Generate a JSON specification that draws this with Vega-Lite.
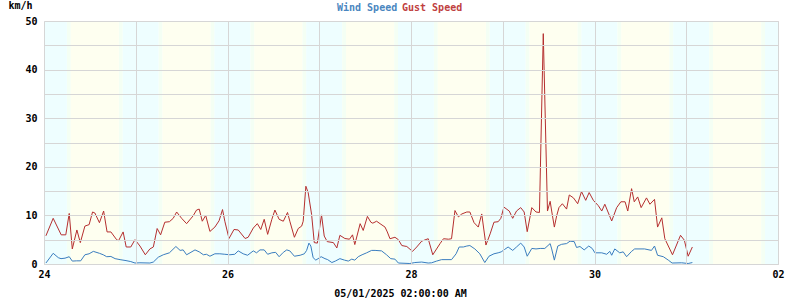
{
  "$schema": "https://vega.github.io/schema/vega-lite/v6.json",
  "width": 734,
  "height": 243,
  "autosize": {"type": "none"},
  "padding": {"left": 44, "top": 21, "right": 22, "bottom": 36},
  "background": "white",
  "config": {
    "view": {"stroke": "#d6d6d6"},
    "font": "DejaVu Sans Mono",
    "axis": {
      "grid": true,
      "gridColor": "#d6d6d6",
      "gridWidth": 1,
      "domainColor": "#d6d6d6",
      "ticks": false,
      "labelFont": "DejaVu Sans Mono",
      "labelFontWeight": "bold",
      "labelFontSize": 10,
      "labelColor": "#000000",
      "titleFont": "DejaVu Sans Mono",
      "titleFontWeight": "bold",
      "titleFontSize": 10,
      "titleColor": "#000000",
      "labelOverlap": false,
      "labelFlush": false
    }
  },
  "datasets": {
    "bands": [
      {"h": 0, "h2": 6, "k": "n"}, {"h": 6, "h2": 7, "k": "t"}, {"h": 7, "h2": 19.6, "k": "d"}, {"h": 19.6, "h2": 20.6, "k": "t"},
      {"h": 20.6, "h2": 30, "k": "n"}, {"h": 30, "h2": 31, "k": "t"}, {"h": 31, "h2": 43.6, "k": "d"}, {"h": 43.6, "h2": 44.6, "k": "t"},
      {"h": 44.6, "h2": 54, "k": "n"}, {"h": 54, "h2": 55, "k": "t"}, {"h": 55, "h2": 67.6, "k": "d"}, {"h": 67.6, "h2": 68.6, "k": "t"},
      {"h": 68.6, "h2": 78, "k": "n"}, {"h": 78, "h2": 79, "k": "t"}, {"h": 79, "h2": 91.6, "k": "d"}, {"h": 91.6, "h2": 92.6, "k": "t"},
      {"h": 92.6, "h2": 102, "k": "n"}, {"h": 102, "h2": 103, "k": "t"}, {"h": 103, "h2": 115.6, "k": "d"}, {"h": 115.6, "h2": 116.6, "k": "t"},
      {"h": 116.6, "h2": 126, "k": "n"}, {"h": 126, "h2": 127, "k": "t"}, {"h": 127, "h2": 139.6, "k": "d"}, {"h": 139.6, "h2": 140.6, "k": "t"},
      {"h": 140.6, "h2": 150, "k": "n"}, {"h": 150, "h2": 151, "k": "t"}, {"h": 151, "h2": 163.6, "k": "d"}, {"h": 163.6, "h2": 164.6, "k": "t"},
      {"h": 164.6, "h2": 174, "k": "n"}, {"h": 174, "h2": 175, "k": "t"}, {"h": 175, "h2": 187.6, "k": "d"}, {"h": 187.6, "h2": 188.6, "k": "t"},
      {"h": 188.6, "h2": 192, "k": "n"}
    ],
    "wind": [
      {"s": "Wind Speed", "h": 0.5, "v": 0.2}, {"s": "Wind Speed", "h": 2.4, "v": 2.2}, {"s": "Wind Speed", "h": 3.75, "v": 1.3},
      {"s": "Wind Speed", "h": 4.45, "v": 1.1}, {"s": "Wind Speed", "h": 5.5, "v": 1.2}, {"s": "Wind Speed", "h": 6.6, "v": 1.5},
      {"s": "Wind Speed", "h": 7.4, "v": 0.6}, {"s": "Wind Speed", "h": 8.55, "v": 0.65}, {"s": "Wind Speed", "h": 9.6, "v": 0.65},
      {"s": "Wind Speed", "h": 10.7, "v": 1.9}, {"s": "Wind Speed", "h": 11.8, "v": 2.1}, {"s": "Wind Speed", "h": 12.9, "v": 2.6},
      {"s": "Wind Speed", "h": 14.5, "v": 2.2}, {"s": "Wind Speed", "h": 15.5, "v": 1.9}, {"s": "Wind Speed", "h": 16.4, "v": 1.5},
      {"s": "Wind Speed", "h": 17.5, "v": 1.55}, {"s": "Wind Speed", "h": 18.6, "v": 1.1}, {"s": "Wind Speed", "h": 19.9, "v": 0.9},
      {"s": "Wind Speed", "h": 21.45, "v": 0.7}, {"s": "Wind Speed", "h": 22.7, "v": 0.5}, {"s": "Wind Speed", "h": 23.8, "v": 0.2},
      {"s": "Wind Speed", "h": 25.1, "v": 0.25}, {"s": "Wind Speed", "h": 27.7, "v": 0.2}, {"s": "Wind Speed", "h": 28.6, "v": 0.4},
      {"s": "Wind Speed", "h": 29.9, "v": 1.4}, {"s": "Wind Speed", "h": 31.2, "v": 1.9}, {"s": "Wind Speed", "h": 32.8, "v": 2.3},
      {"s": "Wind Speed", "h": 34.5, "v": 3.6}, {"s": "Wind Speed", "h": 35.6, "v": 2.8}, {"s": "Wind Speed", "h": 36.4, "v": 2.9},
      {"s": "Wind Speed", "h": 37.3, "v": 1.9}, {"s": "Wind Speed", "h": 38.2, "v": 2.3}, {"s": "Wind Speed", "h": 39.5, "v": 2.9},
      {"s": "Wind Speed", "h": 40.6, "v": 2.5}, {"s": "Wind Speed", "h": 41.7, "v": 1.9}, {"s": "Wind Speed", "h": 42.5, "v": 2.0},
      {"s": "Wind Speed", "h": 43.4, "v": 1.6}, {"s": "Wind Speed", "h": 44.7, "v": 2.1}, {"s": "Wind Speed", "h": 46.0, "v": 2.1},
      {"s": "Wind Speed", "h": 47.3, "v": 2.0}, {"s": "Wind Speed", "h": 48.6, "v": 1.9}, {"s": "Wind Speed", "h": 49.9, "v": 2.0},
      {"s": "Wind Speed", "h": 50.8, "v": 2.7}, {"s": "Wind Speed", "h": 52.1, "v": 2.1}, {"s": "Wind Speed", "h": 53.25, "v": 1.8},
      {"s": "Wind Speed", "h": 54.75, "v": 2.7}, {"s": "Wind Speed", "h": 55.6, "v": 2.3}, {"s": "Wind Speed", "h": 56.5, "v": 2.9},
      {"s": "Wind Speed", "h": 57.6, "v": 2.9}, {"s": "Wind Speed", "h": 58.5, "v": 2.0}, {"s": "Wind Speed", "h": 59.6, "v": 2.3},
      {"s": "Wind Speed", "h": 60.6, "v": 2.4}, {"s": "Wind Speed", "h": 61.5, "v": 1.5}, {"s": "Wind Speed", "h": 62.6, "v": 2.4},
      {"s": "Wind Speed", "h": 63.5, "v": 2.9}, {"s": "Wind Speed", "h": 64.3, "v": 2.7}, {"s": "Wind Speed", "h": 65.5, "v": 1.6},
      {"s": "Wind Speed", "h": 67.0, "v": 1.8}, {"s": "Wind Speed", "h": 68.1, "v": 2.1}, {"s": "Wind Speed", "h": 68.7, "v": 2.8},
      {"s": "Wind Speed", "h": 69.3, "v": 4.3}, {"s": "Wind Speed", "h": 69.8, "v": 3.7}, {"s": "Wind Speed", "h": 70.4, "v": 1.3},
      {"s": "Wind Speed", "h": 71.1, "v": 0.8}, {"s": "Wind Speed", "h": 72.5, "v": 1.5}, {"s": "Wind Speed", "h": 73.5, "v": 1.1},
      {"s": "Wind Speed", "h": 74.2, "v": 0.9}, {"s": "Wind Speed", "h": 75.3, "v": 0.3}, {"s": "Wind Speed", "h": 76.2, "v": 0.6},
      {"s": "Wind Speed", "h": 77.4, "v": 1.1}, {"s": "Wind Speed", "h": 78.6, "v": 0.8}, {"s": "Wind Speed", "h": 79.6, "v": 0.6},
      {"s": "Wind Speed", "h": 80.5, "v": 1.0}, {"s": "Wind Speed", "h": 81.3, "v": 0.8}, {"s": "Wind Speed", "h": 82.2, "v": 1.5},
      {"s": "Wind Speed", "h": 83.2, "v": 1.9}, {"s": "Wind Speed", "h": 84.4, "v": 2.3}, {"s": "Wind Speed", "h": 85.7, "v": 2.8},
      {"s": "Wind Speed", "h": 86.6, "v": 2.8}, {"s": "Wind Speed", "h": 88.3, "v": 2.7}, {"s": "Wind Speed", "h": 89.6, "v": 1.9},
      {"s": "Wind Speed", "h": 90.7, "v": 1.1}, {"s": "Wind Speed", "h": 91.8, "v": 1.0}, {"s": "Wind Speed", "h": 92.7, "v": 0.2},
      {"s": "Wind Speed", "h": 95.7, "v": 0.1}, {"s": "Wind Speed", "h": 97.0, "v": 0.3}, {"s": "Wind Speed", "h": 98.8, "v": 0.4},
      {"s": "Wind Speed", "h": 100.5, "v": 0.2}, {"s": "Wind Speed", "h": 101.4, "v": 0.25}, {"s": "Wind Speed", "h": 102.7, "v": 0.6},
      {"s": "Wind Speed", "h": 104.0, "v": 0.9}, {"s": "Wind Speed", "h": 106.6, "v": 0.9}, {"s": "Wind Speed", "h": 107.8, "v": 2.1},
      {"s": "Wind Speed", "h": 108.6, "v": 3.5}, {"s": "Wind Speed", "h": 109.7, "v": 3.5}, {"s": "Wind Speed", "h": 110.6, "v": 3.7},
      {"s": "Wind Speed", "h": 111.4, "v": 3.8}, {"s": "Wind Speed", "h": 112.7, "v": 3.1}, {"s": "Wind Speed", "h": 114.0, "v": 2.1},
      {"s": "Wind Speed", "h": 115.3, "v": 0.3}, {"s": "Wind Speed", "h": 116.4, "v": 1.6}, {"s": "Wind Speed", "h": 117.7, "v": 2.1},
      {"s": "Wind Speed", "h": 118.8, "v": 2.3}, {"s": "Wind Speed", "h": 119.6, "v": 2.5}, {"s": "Wind Speed", "h": 120.5, "v": 3.0},
      {"s": "Wind Speed", "h": 121.4, "v": 3.5}, {"s": "Wind Speed", "h": 122.6, "v": 2.8}, {"s": "Wind Speed", "h": 123.6, "v": 3.5},
      {"s": "Wind Speed", "h": 124.7, "v": 4.3}, {"s": "Wind Speed", "h": 125.6, "v": 3.5}, {"s": "Wind Speed", "h": 126.4, "v": 1.6},
      {"s": "Wind Speed", "h": 127.6, "v": 3.2}, {"s": "Wind Speed", "h": 128.7, "v": 3.1}, {"s": "Wind Speed", "h": 129.8, "v": 3.2},
      {"s": "Wind Speed", "h": 131.0, "v": 3.2}, {"s": "Wind Speed", "h": 132.4, "v": 4.2}, {"s": "Wind Speed", "h": 132.8, "v": 3.1},
      {"s": "Wind Speed", "h": 133.5, "v": 0.8}, {"s": "Wind Speed", "h": 134.4, "v": 3.7}, {"s": "Wind Speed", "h": 135.4, "v": 4.05},
      {"s": "Wind Speed", "h": 136.7, "v": 4.2}, {"s": "Wind Speed", "h": 137.6, "v": 4.7}, {"s": "Wind Speed", "h": 138.7, "v": 4.6},
      {"s": "Wind Speed", "h": 139.3, "v": 3.4}, {"s": "Wind Speed", "h": 140.2, "v": 3.6}, {"s": "Wind Speed", "h": 141.3, "v": 2.9},
      {"s": "Wind Speed", "h": 142.5, "v": 3.7}, {"s": "Wind Speed", "h": 143.4, "v": 3.2}, {"s": "Wind Speed", "h": 144.1, "v": 2.3},
      {"s": "Wind Speed", "h": 145.9, "v": 2.3}, {"s": "Wind Speed", "h": 147.2, "v": 2.0}, {"s": "Wind Speed", "h": 148.0, "v": 2.6},
      {"s": "Wind Speed", "h": 148.5, "v": 1.8}, {"s": "Wind Speed", "h": 149.3, "v": 3.1}, {"s": "Wind Speed", "h": 150.6, "v": 2.3},
      {"s": "Wind Speed", "h": 151.5, "v": 2.5}, {"s": "Wind Speed", "h": 152.4, "v": 1.5}, {"s": "Wind Speed", "h": 153.7, "v": 2.6},
      {"s": "Wind Speed", "h": 154.5, "v": 3.1}, {"s": "Wind Speed", "h": 157.1, "v": 3.1}, {"s": "Wind Speed", "h": 158.9, "v": 2.8},
      {"s": "Wind Speed", "h": 159.7, "v": 3.7}, {"s": "Wind Speed", "h": 160.5, "v": 1.8}, {"s": "Wind Speed", "h": 162.0, "v": 1.5},
      {"s": "Wind Speed", "h": 163.3, "v": 0.8}, {"s": "Wind Speed", "h": 164.3, "v": 0.2}, {"s": "Wind Speed", "h": 166.8, "v": 0.25},
      {"s": "Wind Speed", "h": 168.5, "v": 0.1}, {"s": "Wind Speed", "h": 169.6, "v": 0.3},

      {"s": "Gust Speed", "h": 0.5, "v": 5.8}, {"s": "Gust Speed", "h": 2.4, "v": 9.4}, {"s": "Gust Speed", "h": 4.5, "v": 6.0},
      {"s": "Gust Speed", "h": 5.7, "v": 6.0}, {"s": "Gust Speed", "h": 6.6, "v": 10.4}, {"s": "Gust Speed", "h": 7.4, "v": 3.1},
      {"s": "Gust Speed", "h": 8.6, "v": 7.0}, {"s": "Gust Speed", "h": 9.5, "v": 4.4}, {"s": "Gust Speed", "h": 10.7, "v": 7.8},
      {"s": "Gust Speed", "h": 11.8, "v": 8.1}, {"s": "Gust Speed", "h": 12.7, "v": 10.7}, {"s": "Gust Speed", "h": 13.3, "v": 10.5},
      {"s": "Gust Speed", "h": 14.5, "v": 8.5}, {"s": "Gust Speed", "h": 15.6, "v": 10.9}, {"s": "Gust Speed", "h": 16.5, "v": 6.6},
      {"s": "Gust Speed", "h": 17.5, "v": 6.6}, {"s": "Gust Speed", "h": 19.0, "v": 5.0}, {"s": "Gust Speed", "h": 19.5, "v": 4.8},
      {"s": "Gust Speed", "h": 20.7, "v": 6.6}, {"s": "Gust Speed", "h": 21.5, "v": 3.5}, {"s": "Gust Speed", "h": 22.7, "v": 3.5},
      {"s": "Gust Speed", "h": 23.8, "v": 5.0}, {"s": "Gust Speed", "h": 25.1, "v": 3.7}, {"s": "Gust Speed", "h": 26.5, "v": 1.9},
      {"s": "Gust Speed", "h": 27.7, "v": 3.1}, {"s": "Gust Speed", "h": 28.6, "v": 3.5}, {"s": "Gust Speed", "h": 29.6, "v": 7.3},
      {"s": "Gust Speed", "h": 30.5, "v": 6.0}, {"s": "Gust Speed", "h": 31.6, "v": 8.6}, {"s": "Gust Speed", "h": 32.8, "v": 8.7},
      {"s": "Gust Speed", "h": 33.8, "v": 9.4}, {"s": "Gust Speed", "h": 34.7, "v": 10.7}, {"s": "Gust Speed", "h": 36.0, "v": 9.4},
      {"s": "Gust Speed", "h": 37.3, "v": 8.3}, {"s": "Gust Speed", "h": 39.0, "v": 9.9}, {"s": "Gust Speed", "h": 39.9, "v": 11.1},
      {"s": "Gust Speed", "h": 40.6, "v": 11.3}, {"s": "Gust Speed", "h": 41.4, "v": 8.8}, {"s": "Gust Speed", "h": 42.3, "v": 10.0},
      {"s": "Gust Speed", "h": 43.4, "v": 6.7}, {"s": "Gust Speed", "h": 44.7, "v": 7.6}, {"s": "Gust Speed", "h": 45.8, "v": 8.9},
      {"s": "Gust Speed", "h": 46.7, "v": 11.2}, {"s": "Gust Speed", "h": 47.3, "v": 8.8}, {"s": "Gust Speed", "h": 48.4, "v": 5.25},
      {"s": "Gust Speed", "h": 49.7, "v": 7.1}, {"s": "Gust Speed", "h": 50.8, "v": 7.0}, {"s": "Gust Speed", "h": 52.6, "v": 5.25},
      {"s": "Gust Speed", "h": 53.4, "v": 5.5}, {"s": "Gust Speed", "h": 54.75, "v": 7.4}, {"s": "Gust Speed", "h": 55.8, "v": 8.3},
      {"s": "Gust Speed", "h": 56.7, "v": 7.1}, {"s": "Gust Speed", "h": 57.6, "v": 9.2}, {"s": "Gust Speed", "h": 58.5, "v": 6.1},
      {"s": "Gust Speed", "h": 59.6, "v": 9.2}, {"s": "Gust Speed", "h": 60.4, "v": 11.1}, {"s": "Gust Speed", "h": 61.5, "v": 9.2},
      {"s": "Gust Speed", "h": 62.6, "v": 8.8}, {"s": "Gust Speed", "h": 63.7, "v": 10.6}, {"s": "Gust Speed", "h": 64.3, "v": 8.8},
      {"s": "Gust Speed", "h": 65.5, "v": 5.5}, {"s": "Gust Speed", "h": 66.5, "v": 7.3}, {"s": "Gust Speed", "h": 67.4, "v": 7.8},
      {"s": "Gust Speed", "h": 67.8, "v": 8.8}, {"s": "Gust Speed", "h": 68.5, "v": 16.0}, {"s": "Gust Speed", "h": 69.1, "v": 14.7},
      {"s": "Gust Speed", "h": 70.0, "v": 10.2}, {"s": "Gust Speed", "h": 70.7, "v": 4.4}, {"s": "Gust Speed", "h": 71.5, "v": 4.3},
      {"s": "Gust Speed", "h": 72.6, "v": 10.1}, {"s": "Gust Speed", "h": 73.3, "v": 5.75}, {"s": "Gust Speed", "h": 74.1, "v": 4.6},
      {"s": "Gust Speed", "h": 75.7, "v": 4.4}, {"s": "Gust Speed", "h": 76.6, "v": 3.3}, {"s": "Gust Speed", "h": 77.4, "v": 5.9},
      {"s": "Gust Speed", "h": 78.7, "v": 5.25}, {"s": "Gust Speed", "h": 79.9, "v": 5.1}, {"s": "Gust Speed", "h": 80.7, "v": 6.0},
      {"s": "Gust Speed", "h": 81.3, "v": 4.0}, {"s": "Gust Speed", "h": 82.7, "v": 8.3}, {"s": "Gust Speed", "h": 83.5, "v": 6.9},
      {"s": "Gust Speed", "h": 84.6, "v": 9.8}, {"s": "Gust Speed", "h": 85.5, "v": 8.6}, {"s": "Gust Speed", "h": 86.0, "v": 8.4},
      {"s": "Gust Speed", "h": 87.0, "v": 8.8}, {"s": "Gust Speed", "h": 87.9, "v": 8.3}, {"s": "Gust Speed", "h": 89.2, "v": 7.6},
      {"s": "Gust Speed", "h": 89.8, "v": 6.6}, {"s": "Gust Speed", "h": 90.5, "v": 5.2}, {"s": "Gust Speed", "h": 91.8, "v": 5.5},
      {"s": "Gust Speed", "h": 92.7, "v": 5.0}, {"s": "Gust Speed", "h": 93.6, "v": 3.8}, {"s": "Gust Speed", "h": 94.9, "v": 3.6},
      {"s": "Gust Speed", "h": 96.4, "v": 2.6}, {"s": "Gust Speed", "h": 97.5, "v": 3.5}, {"s": "Gust Speed", "h": 98.8, "v": 4.7},
      {"s": "Gust Speed", "h": 100.5, "v": 5.2}, {"s": "Gust Speed", "h": 101.7, "v": 1.9}, {"s": "Gust Speed", "h": 103.6, "v": 4.2},
      {"s": "Gust Speed", "h": 104.5, "v": 5.2}, {"s": "Gust Speed", "h": 105.8, "v": 5.1}, {"s": "Gust Speed", "h": 106.6, "v": 5.2},
      {"s": "Gust Speed", "h": 107.5, "v": 11.0}, {"s": "Gust Speed", "h": 108.4, "v": 9.7}, {"s": "Gust Speed", "h": 109.3, "v": 10.3},
      {"s": "Gust Speed", "h": 110.6, "v": 10.7}, {"s": "Gust Speed", "h": 111.4, "v": 10.7}, {"s": "Gust Speed", "h": 112.5, "v": 8.5},
      {"s": "Gust Speed", "h": 113.6, "v": 7.6}, {"s": "Gust Speed", "h": 114.5, "v": 10.3}, {"s": "Gust Speed", "h": 115.6, "v": 3.9},
      {"s": "Gust Speed", "h": 116.7, "v": 6.2}, {"s": "Gust Speed", "h": 117.7, "v": 8.6}, {"s": "Gust Speed", "h": 118.8, "v": 8.7},
      {"s": "Gust Speed", "h": 119.5, "v": 9.4}, {"s": "Gust Speed", "h": 120.3, "v": 11.7}, {"s": "Gust Speed", "h": 121.7, "v": 10.9},
      {"s": "Gust Speed", "h": 122.6, "v": 9.4}, {"s": "Gust Speed", "h": 123.6, "v": 10.9}, {"s": "Gust Speed", "h": 124.7, "v": 11.6},
      {"s": "Gust Speed", "h": 125.6, "v": 10.7}, {"s": "Gust Speed", "h": 126.4, "v": 6.65}, {"s": "Gust Speed", "h": 127.6, "v": 11.6},
      {"s": "Gust Speed", "h": 128.7, "v": 10.7}, {"s": "Gust Speed", "h": 129.6, "v": 10.6}, {"s": "Gust Speed", "h": 130.6, "v": 47.4},
      {"s": "Gust Speed", "h": 131.7, "v": 10.9}, {"s": "Gust Speed", "h": 132.4, "v": 12.9}, {"s": "Gust Speed", "h": 132.8, "v": 10.9},
      {"s": "Gust Speed", "h": 133.5, "v": 7.6}, {"s": "Gust Speed", "h": 134.1, "v": 9.9}, {"s": "Gust Speed", "h": 134.7, "v": 11.6},
      {"s": "Gust Speed", "h": 135.6, "v": 12.4}, {"s": "Gust Speed", "h": 136.7, "v": 11.3}, {"s": "Gust Speed", "h": 137.4, "v": 14.2},
      {"s": "Gust Speed", "h": 138.5, "v": 13.6}, {"s": "Gust Speed", "h": 139.6, "v": 12.4}, {"s": "Gust Speed", "h": 140.6, "v": 14.9},
      {"s": "Gust Speed", "h": 141.7, "v": 13.1}, {"s": "Gust Speed", "h": 142.6, "v": 14.7}, {"s": "Gust Speed", "h": 143.7, "v": 13.1},
      {"s": "Gust Speed", "h": 145.0, "v": 12.0}, {"s": "Gust Speed", "h": 145.9, "v": 10.9}, {"s": "Gust Speed", "h": 146.7, "v": 12.3},
      {"s": "Gust Speed", "h": 148.5, "v": 8.85}, {"s": "Gust Speed", "h": 149.8, "v": 11.6}, {"s": "Gust Speed", "h": 150.9, "v": 12.8},
      {"s": "Gust Speed", "h": 152.0, "v": 12.8}, {"s": "Gust Speed", "h": 152.7, "v": 10.9}, {"s": "Gust Speed", "h": 153.7, "v": 15.5},
      {"s": "Gust Speed", "h": 154.4, "v": 12.8}, {"s": "Gust Speed", "h": 155.3, "v": 13.8}, {"s": "Gust Speed", "h": 156.2, "v": 11.6},
      {"s": "Gust Speed", "h": 157.6, "v": 13.6}, {"s": "Gust Speed", "h": 158.5, "v": 12.3}, {"s": "Gust Speed", "h": 159.7, "v": 13.3},
      {"s": "Gust Speed", "h": 160.5, "v": 7.6}, {"s": "Gust Speed", "h": 161.6, "v": 9.5}, {"s": "Gust Speed", "h": 162.4, "v": 5.2},
      {"s": "Gust Speed", "h": 164.4, "v": 1.9}, {"s": "Gust Speed", "h": 166.5, "v": 5.9}, {"s": "Gust Speed", "h": 167.5, "v": 4.9},
      {"s": "Gust Speed", "h": 168.5, "v": 1.6}, {"s": "Gust Speed", "h": 169.6, "v": 3.5}
    ]
  },
  "encoding": {
    "x": {
      "field": "h",
      "type": "quantitative",
      "scale": {"domain": [0, 192], "nice": false, "zero": false},
      "axis": {
        "zindex": 1,
        "grid": true,
        "values": [0, 24, 48, 72, 96, 120, 144, 168, 192],
        "labelExpr": "datum.value % 48 == 0 ? ['24','26','28','30','02'][datum.value / 48] : ''",
        "labelPadding": 5,
        "title": "05/01/2025 02:00:00 AM",
        "titleX": 356,
        "titleY": 32,
        "titleAlign": "center",
        "titleBaseline": "alphabetic"
      }
    }
  },
  "layer": [
    {
      "data": {"name": "bands"},
      "mark": {"type": "rect"},
      "encoding": {
        "x2": {"field": "h2"},
        "fill": {
          "field": "k",
          "type": "nominal",
          "scale": {"domain": ["n", "t", "d"], "range": ["#eefeff", "#f4fff4", "#fefff0"]},
          "legend": null
        }
      }
    },
    {
      "data": {"name": "wind"},
      "mark": {"type": "line", "strokeWidth": 1, "interpolate": "linear"},
      "encoding": {
        "y": {
          "field": "v",
          "type": "quantitative",
          "scale": {"domain": [0, 50], "nice": false},
          "axis": {
            "zindex": 1,
            "grid": true,
            "values": [0, 5, 10, 15, 20, 25, 30, 35, 40, 45, 50],
            "labelExpr": "datum.value % 10 == 0 ? datum.label : ''",
            "labelPadding": 7,
            "title": "km/h",
            "titleAngle": 0,
            "titleAlign": "left",
            "titleBaseline": "alphabetic",
            "titleX": -36,
            "titleY": -13
          }
        },
        "stroke": {
          "field": "s",
          "type": "nominal",
          "scale": {"domain": ["Wind Speed", "Gust Speed"], "range": ["#3a7dbf", "#b52f2f"]},
          "legend": {
            "orient": "none",
            "direction": "horizontal",
            "legendX": 289,
            "legendY": -23,
            "title": null,
            "padding": 0,
            "symbolSize": 0,
            "symbolOpacity": 0,
            "symbolStrokeWidth": 0,
            "labelOffset": -6,
            "columnPadding": 0,
            "labelFont": "DejaVu Sans Mono",
            "labelFontWeight": "bold",
            "labelFontSize": 10,
            "labelBaseline": "top",
            "encode": {
              "labels": {
                "update": {
                  "fill": {"signal": "datum.value === 'Wind Speed' ? '#4a86c0' : '#c04040'"}
                }
              }
            }
          }
        }
      }
    }
  ]
}
